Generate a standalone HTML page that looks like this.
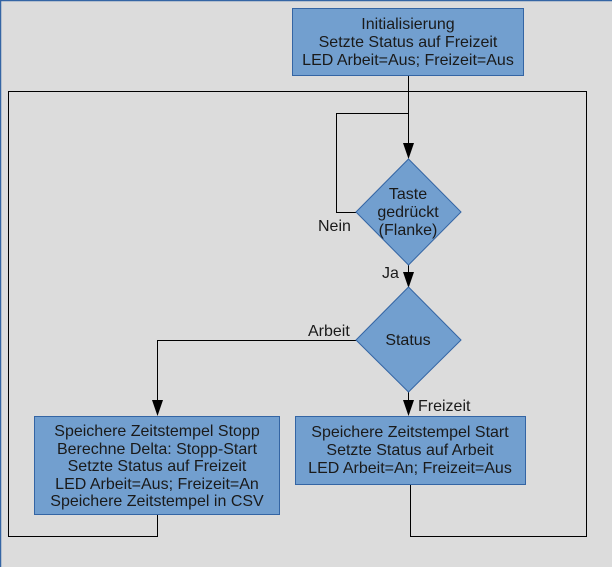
<!DOCTYPE html>
<html><head><meta charset="utf-8"><style>
html,body{margin:0;padding:0;background:#dcdcdc;width:612px;height:567px;overflow:hidden}
svg{display:block}
text{font-family:"Liberation Sans",sans-serif;font-size:16px;fill:#1a1a1a}
</style></head><body>
<svg width="612" height="567" viewBox="0 0 612 567" xmlns="http://www.w3.org/2000/svg">
<rect x="0" y="0" width="612" height="567" fill="#dcdcdc"/>
<line x1="0" y1="0.5" x2="612" y2="0.5" stroke="#3465a4" stroke-width="1.5"/>
<line x1="0.5" y1="0" x2="0.5" y2="567" stroke="#3465a4" stroke-width="1.5"/>
<g fill="none" stroke="#000" stroke-width="1">
<polyline points="157.5,514 157.5,536.5 8.5,536.5 8.5,91.5 586.5,91.5 586.5,536.5 410.5,536.5 410.5,484"/>
<line x1="408.5" y1="76" x2="408.5" y2="145"/>
<polyline points="356,212.5 336.5,212.5 336.5,113.5 408.5,113.5"/>
<line x1="408.5" y1="265" x2="408.5" y2="275"/>
<polyline points="356,340.5 157.5,340.5 157.5,402"/>
<line x1="408.5" y1="392" x2="408.5" y2="402"/>
</g>
<g fill="#000">
<polygon points="403,143 414,143 408.5,159"/>
<polygon points="403,272 414,272 408.5,288"/>
<polygon points="152,400 163,400 157.5,416"/>
<polygon points="403,400 414,400 408.5,416"/>
</g>
<g fill="#729fcf" stroke="#3465a4" stroke-width="1">
<rect x="292.5" y="8.5" width="231" height="67"/>
<polygon points="408.5,159 461,212 408.5,265 356,212"/>
<polygon points="408.5,287 461,340 408.5,392 356,340"/>
<rect x="34.5" y="416.5" width="245" height="98"/>
<rect x="295.5" y="416.5" width="230" height="68"/>
</g>
<g text-anchor="middle">
<text x="408" y="29">Initialisierung</text>
<text x="408" y="47">Setzte Status auf Freizeit</text>
<text x="408" y="65">LED Arbeit=Aus; Freizeit=Aus</text>
<text x="408" y="199">Taste</text>
<text x="408" y="217">gedrückt</text>
<text x="408" y="235">(Flanke)</text>
<text x="408" y="345">Status</text>
<text x="157" y="436">Speichere Zeitstempel Stopp</text>
<text x="157" y="454">Berechne Delta: Stopp-Start</text>
<text x="157" y="471">Setzte Status auf Freizeit</text>
<text x="157" y="489">LED Arbeit=Aus; Freizeit=An</text>
<text x="157" y="506">Speichere Zeitstempel in CSV</text>
<text x="410" y="437">Speichere Zeitstempel Start</text>
<text x="410" y="455">Setzte Status auf Arbeit</text>
<text x="410" y="473">LED Arbeit=An; Freizeit=Aus</text>
</g>
<text x="318" y="231">Nein</text>
<text x="382" y="278">Ja</text>
<text x="308" y="336">Arbeit</text>
<text x="418" y="411">Freizeit</text>
</svg>
</body></html>
